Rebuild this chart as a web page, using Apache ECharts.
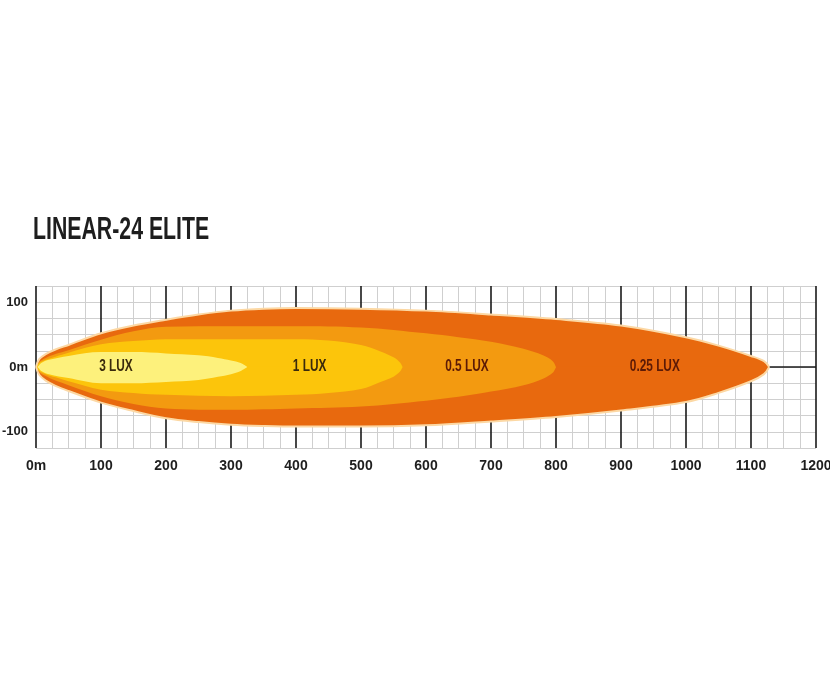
<!DOCTYPE html>
<html>
<head>
<meta charset="utf-8">
<script src="https://cdn.jsdelivr.net/npm/echarts@6/dist/echarts.min.js"></script>
<style>
  html, body { margin: 0; padding: 0; background: #fff; }
  #chart { width: 830px; height: 691px; }
</style>
</head>
<body>
<div id="chart"></div>
<script>
// Beam pattern of the LINEAR-24 ELITE, distance (m) vs lateral spread (m)
const FONT = "'Liberation Sans', Arial, sans-serif";

// 0.25 lux zone (outermost)
const lux025X     = [0, 5, 15, 30, 50, 100, 150, 200, 250, 300, 350, 400, 500, 600, 700, 800, 900, 1000, 1050, 1100, 1120, 1128];
const lux025Upper = [0, 12, 20, 27, 34, 52, 64, 73, 81, 87, 90, 91, 90, 87, 81, 74, 64, 46, 33, 17, 9, 0];
const lux025Lower = [0, -12, -21, -29, -37, -55, -68, -79, -85, -89, -91, -92, -92, -90, -84, -77, -67, -54, -40, -22, -11, 0];

// 0.5 lux zone
const lux05X     = [0, 5, 15, 30, 50, 100, 150, 200, 300, 400, 500, 600, 650, 700, 750, 780, 795, 800];
const lux05Upper = [0, 8, 14, 20, 26, 42, 55, 62, 63, 63, 61, 52, 46, 39, 28, 18, 9, 0];
const lux05Lower = [0, -8, -14, -21, -28, -45, -57, -64, -66, -64, -61, -52, -46, -38, -28, -18, -9, 0];

// 1 lux zone
const lux1X     = [0, 5, 15, 30, 50, 100, 150, 200, 300, 400, 450, 500, 530, 550, 560, 564];
const lux1Upper = [0, 6, 11, 16, 22, 35, 40, 43, 43, 43, 41, 34, 24, 15, 7, 0];
const lux1Lower = [0, -6, -11, -16, -22, -35, -40, -43, -45, -43, -40, -34, -23, -15, -7, 0];

// 3 lux zone (innermost)
const lux3X     = [3, 8, 20, 50, 100, 150, 200, 250, 280, 300, 315, 325];
const lux3Upper = [0, 6, 11, 17, 23, 23, 21, 18, 14, 10, 6, 0];
const lux3Lower = [0, -6, -11, -17, -25, -25, -23, -20, -15, -11, -6, 0];

// centre line (visible beyond the beam)
const zeroLineX = [0, 1200];
const zeroLineY = [0, 0];

// zone labels
const luxLabels = ['3 LUX', '1 LUX', '0.5 LUX', '0.25 LUX'];
const luxLabelX = [123, 421, 663, 952];
const luxLabelY = [0, 0, 0, 0];
const luxLabelColor = ['#3a2a0c', '#3a2a0c', '#5c1a06', '#5c1a06'];

const zip = (xs, ys) => xs.map((x, i) => [x, ys[i]]);

function zone(name, xs, ys, color, origin, edge) {
  return {
    name,
    type: 'line',
    z: 2,
    smooth: 0.35,
    showSymbol: false,
    silent: true,
    data: zip(xs, ys),
    lineStyle: edge ? { color: '#fcd8a4', width: 2 } : { width: 0 },
    areaStyle: { color, opacity: 1, origin },
  };
}

const chart = echarts.init(document.getElementById('chart'));

chart.setOption({
  animation: false,
  backgroundColor: '#fff',
  graphic: [{
    type: 'text',
    x: 33, y: 214,
    scaleX: 0.665,
    style: {
      text: 'LINEAR-24 ELITE',
      font: 'bold 32px ' + FONT,
      fill: '#1e1e1e',
      verticalAlign: 'top',
    },
  }],
  grid: { left: 36, right: 14, top: 286, bottom: 243, outerBoundsMode: 'none', containLabel: false },
  xAxis: {
    type: 'value',
    min: 0, max: 1200, interval: 100,
    axisLine: { show: false },
    axisTick: { show: false },
    axisLabel: {
      margin: 11,
      fontFamily: FONT, fontSize: 14, fontWeight: 'bold', color: '#1e1e1e',
      formatter: v => v === 0 ? '0m' : String(v),
    },
    splitLine: { show: true, lineStyle: { color: '#1a1a1a', width: 1.6 } },
    minorTick: { show: false, splitNumber: 4 },
    minorSplitLine: { show: true, lineStyle: { color: '#cfcfcf', width: 1 } },
  },
  yAxis: {
    type: 'value',
    min: -125, max: 125, interval: 25,
    axisLine: { show: false },
    axisTick: { show: false },
    axisLabel: {
      margin: 8,
      fontFamily: FONT, fontSize: 13, fontWeight: 'bold', color: '#1e1e1e',
      formatter: v => v === 0 ? '0m' : (v === 100 || v === -100 ? String(v) : ''),
    },
    splitLine: { show: true, lineStyle: { color: '#cfcfcf', width: 1 } },
  },
  series: [
    {
      type: 'line', z: 1, silent: true, showSymbol: false,
      data: zip(zeroLineX, zeroLineY),
      lineStyle: { color: '#1a1a1a', width: 1.6 },
    },
    zone('0.25 lux', lux025X, lux025Upper, '#e8690e', -1, true),
    zone('0.25 lux', lux025X, lux025Lower, '#e8690e', 1, true),
    zone('0.5 lux', lux05X, lux05Upper, '#f39a10', -1),
    zone('0.5 lux', lux05X, lux05Lower, '#f39a10', 1),
    zone('1 lux', lux1X, lux1Upper, '#fcc50b', -1),
    zone('1 lux', lux1X, lux1Lower, '#fcc50b', 1),
    zone('3 lux', lux3X, lux3Upper, '#fdf17c', -1),
    zone('3 lux', lux3X, lux3Lower, '#fdf17c', 1),
    {
      type: 'custom', z: 5, silent: true,
      data: zip(luxLabelX, luxLabelY),
      renderItem: (params, api) => {
        const p = api.coord([api.value(0), api.value(1)]);
        return {
          type: 'text',
          x: p[0], y: p[1],
          scaleX: 0.74,
          style: {
            text: luxLabels[params.dataIndex],
            font: 'bold 16px ' + FONT,
            fill: luxLabelColor[params.dataIndex],
            align: 'center',
            verticalAlign: 'middle',
          },
        };
      },
    },
  ],
});
</script>
</body>
</html>
